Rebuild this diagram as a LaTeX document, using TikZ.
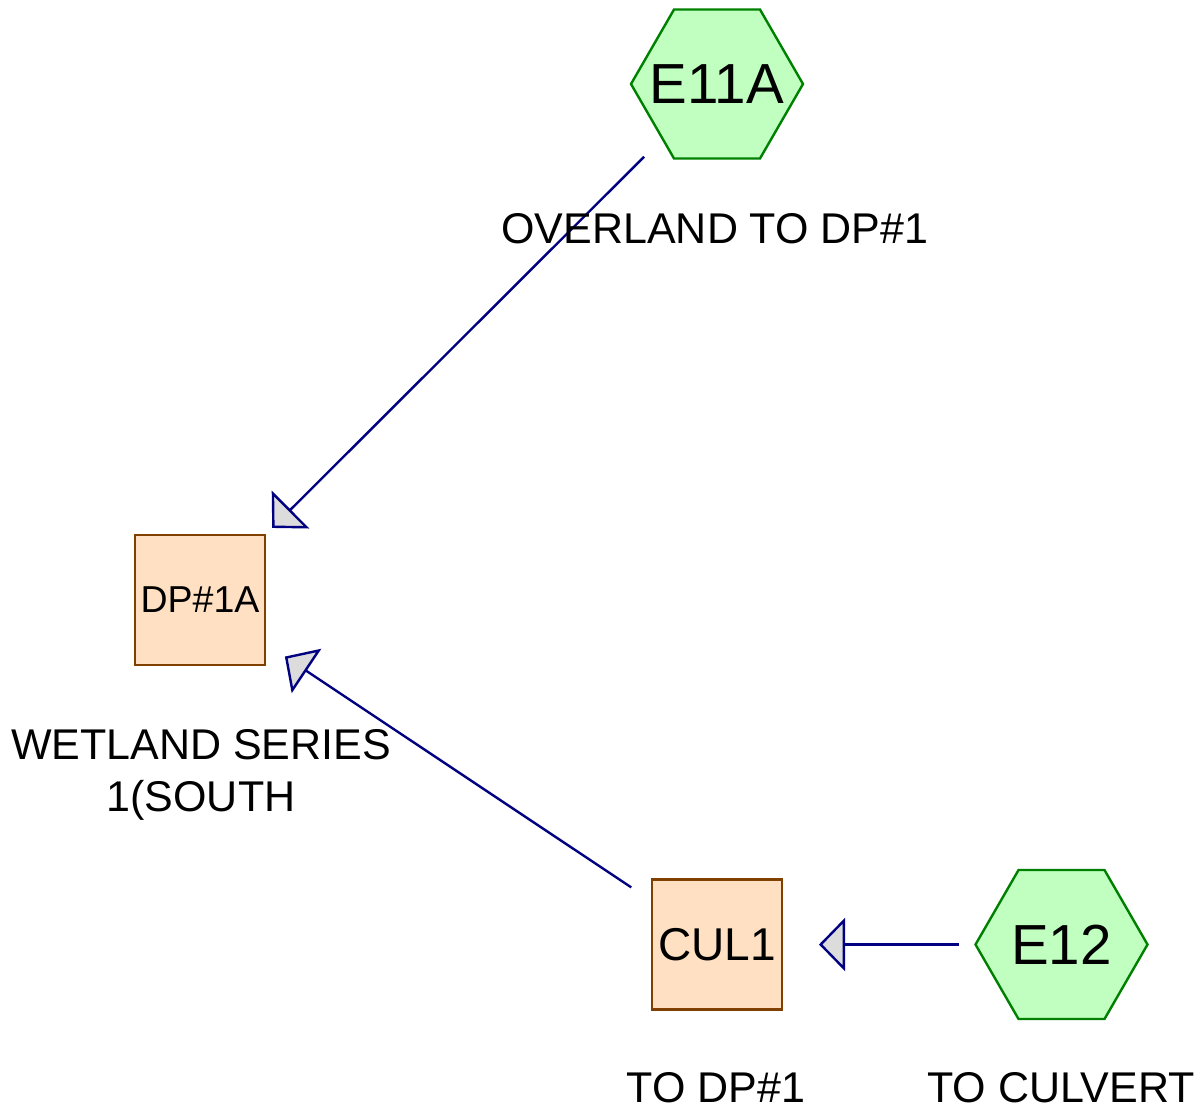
\documentclass[tikz,border=0pt]{standalone}
\usepackage{fontspec}
\setmainfont{Liberation Sans}
\usetikzlibrary{shapes.geometric,arrows.meta}
\definecolor{hexfill}{RGB}{192,255,192}
\definecolor{hexline}{RGB}{0,128,0}
\definecolor{boxfill}{RGB}{255,224,194}
\definecolor{boxline}{RGB}{128,64,0}
\definecolor{flowline}{RGB}{0,0,128}
\definecolor{tipfill}{RGB}{220,220,220}
\begin{document}
\begin{tikzpicture}[x=1pt,y=-1pt,
  hexnode/.style={regular polygon, regular polygon sides=6, minimum size=172pt,
    inner sep=0pt, fill=hexfill, draw=hexline, line width=2.4pt,
    font=\fontsize{56.5}{60}\selectfont},
  boxnode/.style={rectangle, minimum size=130pt, inner sep=0pt,
    fill=boxfill, draw=boxline, line width=2.4pt},
  lbl/.style={font=\fontsize{43}{52}\selectfont, align=center, inner sep=0pt},
  flow/.style={draw=flowline, line width=2.4pt, shorten >=102pt, shorten <=103pt,
    -{Triangle[length=26pt,width=53pt,fill=tipfill,line width=2.4pt]}}]
\useasboundingbox (0,0) rectangle (1204,1112);

% nodes (hexagon text boxed at zero width so it does not enlarge the shape)
\node[hexnode] (e11a) at (717,84) {\makebox[0pt]{E11A}};
\node[hexnode] (e12) at (1061.5,944.5) {\makebox[0pt]{E12}};
\node[boxnode, font=\fontsize{37.5}{42}\selectfont] (dp1a) at (200,600) {DP\#1A};
\node[boxnode, font=\fontsize{46}{50}\selectfont] (cul1) at (717,944.5) {CUL1};

% flows
\draw[flow] (e11a.center) -- (dp1a.center);
\draw[flow] (cul1.center) -- (dp1a.center);
\draw[flow] (e12.center) -- (cul1.center);

% labels
\node[lbl] (l-e11a) at (715,229) {OVERLAND TO DP\#1};
\node[lbl] (l-dp1a) at (201,775) {WETLAND SERIES\\1(SOUTH};
\node[lbl] (l-cul1) at (716,1088) {TO DP\#1};
\node[lbl] (l-e12) at (1061,1088) {TO CULVERT};
\end{tikzpicture}
\end{document}
